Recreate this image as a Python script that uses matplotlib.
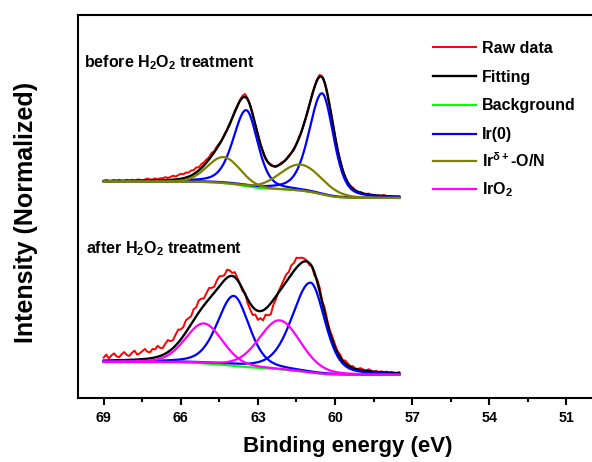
import numpy as np
import matplotlib.pyplot as plt

plt.rcParams['font.family'] = 'Liberation Sans'
plt.rcParams['font.weight'] = 'bold'
plt.rcParams['mathtext.fontset'] = 'custom'
plt.rcParams['mathtext.rm'] = 'Liberation Sans:bold'
plt.rcParams['mathtext.it'] = 'Liberation Sans:bold'
plt.rcParams['mathtext.bf'] = 'Liberation Sans:bold'

# scan window (eV); raw points every 0.1 eV, model curves every 0.025 eV
e_high, e_low = 69.0, 57.5

# ---- before H2O2 treatment (fit parameters) ----
before_bg_ends = [2.165, 2.00]          # Shirley end levels: high BE, low BE
before_ir0_pos = [60.50, 63.45]
before_ir0_amp = [1.01, 0.76]
before_ir0_hw = [[0.60, 0.52], [0.60, 0.52]]   # half widths: high BE side, low BE side
before_irx_pos = [61.33, 64.33]
before_irx_amp = [0.26, 0.26]
before_irx_hw = [[0.95, 0.95], [0.75, 0.75]]

# ---- after H2O2 treatment (fit parameters) ----
after_bg_ends = [0.36, 0.23]
after_ir0_pos = [60.95, 63.94]
after_ir0_amp = [0.90, 0.70]
after_ir0_hw = [[0.85, 0.65], [0.75, 0.70]]
after_iro2_pos = [62.15, 65.10]
after_iro2_amp = [0.49, 0.40]
after_iro2_hw = [[0.95, 0.95], [0.85, 0.85]]

# raw data minus fit (units of 0.01), 69.0 -> 57.5 eV
before_resid = [0, 1, 0, 0, 1, 0, 1, 0, 0, 1, 0,
                1, 0, 1, 1, 0, 1, 2, 1, 1, 2,
                1, 2, 2, 3, 2, 3, 4, 3, 4, 5,
                4, 5, 4, 5, 4, 5, 3, 4, 3, 3,
                2, 3, 1, 2, 1, 0, 1, 0, -1, 0,
                1, 0, 1, 2, 3, 1, 0, -1, 0, 1,
                0, 1, -1, 0, 1, 0, -1, 0, 1, 0,
                0, 1, 0, -1, 0, 1, 0, 1, 0, 0,
                1, 0, 1, 2, 1, 0, -1, 0, 1, 0,
                0, 1, 0, 0, -1, 0, 1, 0, 0, 1,
                0, 0, 1, 0, 0, -1, 0, 0, 1, 0,
                0, 0, -1, 0, 0]
after_resid = [3, 6, 2, 5, 7, 4, 3, 6, 8, 5, 4,
               7, 9, 5, 6, 8, 10, 7, 6, 9, 8,
               11, 8, 7, 10, 12, 9, 8, 11, 13, 10,
               9, 12, 10, 8, 11, 9, 12, 10, 7, 9,
               11, 8, 6, 9, 10, 7, 5, 8, 6, 3,
               5, 2, 0, -2, 1, -4, -6, -8, -5, -9,
               -7, -10, -6, -9, -11, -5, -3, 1, 3, 5,
               7, 6, 9, 8, 10, 7, 5, 3, 1, -2,
               0, -3, 2, 4, 1, 5, 3, 2, 4, 3,
               2, 3, 1, 3, 2, 1, 2, 0, 1, 2,
               1, 0, 2, 1, 0, 1, 0, 1, 0, 1,
               0, 1, 0, 0, 1]

xticks = [69, 66, 63, 60, 57, 54, 51]


def peak(e, pos, amp, hw, eta=0.35):
    """asymmetric pseudo-Voigt (hw = [high BE side, low BE side])"""
    w = np.where(e >= pos, hw[0], hw[1])
    r = ((e - pos) / w) ** 2
    return amp * (eta / (1 + r) + (1 - eta) * np.exp(-np.log(2) * r))


def shirley(e, total, ends):
    step = abs(e[1] - e[0])
    cum = np.cumsum(total[::-1])[::-1] * step
    return ends[1] + (ends[0] - ends[1]) * cum / cum[0]


energy = np.linspace(e_high, e_low, 461)


def build(pos_a, amp_a, hw_a, eta_a, pos_b, amp_b, hw_b, eta_b, ends, resid):
    comp_a = [peak(energy, p, a, w, eta_a) for p, a, w in zip(pos_a, amp_a, hw_a)]
    comp_b = [peak(energy, p, a, w, eta_b) for p, a, w in zip(pos_b, amp_b, hw_b)]
    total = sum(comp_a) + sum(comp_b)
    bg = shirley(energy, total, ends)
    fit = bg + total
    raw = fit[::4] + np.array(resid) * 0.01
    return comp_a, comp_b, bg, fit, raw


fig = plt.figure(figsize=(5.92, 4.62), dpi=100)
ax = fig.add_axes([78 / 592, 64 / 462, 514 / 592, 383 / 462])

spectra = [
    build(before_ir0_pos, before_ir0_amp, before_ir0_hw, 0.35,
          before_irx_pos, before_irx_amp, before_irx_hw, 0.05,
          before_bg_ends, before_resid) + ('#808000',),
    build(after_ir0_pos, after_ir0_amp, after_ir0_hw, 0.35,
          after_iro2_pos, after_iro2_amp, after_iro2_hw, 0.2,
          after_bg_ends, after_resid) + ('#ff00ff',),
]

for k, (comp_a, comp_b, bg, fit, raw, col_b) in enumerate(spectra):
    first = (k == 0)
    ax.plot(energy[::4], raw, color='red', lw=1.4, label='Raw data' if first else None)
    ax.plot(energy, fit, color='black', lw=1.7, label='Fitting' if first else None)
    ax.plot(energy, bg, color='#00ff00', lw=1.5, label='Background' if first else None)
    for j, c in enumerate(comp_a):
        ax.plot(energy, bg + c, color='#0000ff', lw=1.6,
                label='Ir(0)' if (first and j == 0) else None)
    for c in comp_b:
        ax.plot(energy, bg + c, color=col_b, lw=1.6)

# legend entries for the two oxidised species
ax.plot([], [], color='#808000', lw=1.6, label=r'Ir$^{\delta+}$-O/N')
ax.plot([], [], color='#ff00ff', lw=1.6, label=r'IrO$_2$')

ax.text(69.77, 3.31, r'before H$_2$O$_2$ treatment', fontsize=11.5, fontweight='bold')
ax.text(69.69, 1.45, r'after H$_2$O$_2$ treatment', fontsize=11.5, fontweight='bold')

ax.set_xlim(70, 50)
ax.set_ylim(0, 3.83)
ax.set_xticks(xticks)
ax.set_xticks(np.arange(67.5, 50, -3), minor=True)
ax.set_xticklabels([str(t) for t in xticks], fontsize=10.3, fontweight='bold')
ax.set_yticks([])
ax.tick_params(axis='x', which='major', direction='out', length=5, width=1.5, pad=4)
ax.tick_params(axis='x', which='minor', direction='out', length=3, width=1.5)
for s in ['left', 'bottom', 'top']:
    ax.spines[s].set_linewidth(1.5)
ax.spines['right'].set_visible(False)

ax.set_xlabel('Binding energy (eV)', fontsize=16, fontweight='bold')
ax.set_ylabel('Intensity (Normalized)', fontsize=18, fontweight='bold')
ax.xaxis.set_label_coords(0.524, -0.098)
ax.yaxis.set_label_coords(-0.078, 0.484)

# legend in two blocks so the super/subscript rows keep an even pitch
handles, labels = ax.get_legend_handles_labels()
leg_opts = dict(loc='upper left', bbox_transform=fig.transFigure, frameon=False,
                fontsize=11.5, borderpad=0, borderaxespad=0, handlelength=2.7,
                handletextpad=0.35)
leg1 = ax.legend(handles[:4], labels[:4], bbox_to_anchor=(433 / 592, 1 - 41 / 462),
                 labelspacing=0.86, **leg_opts)
ax.add_artist(leg1)
ax.legend(handles[4:], labels[4:], bbox_to_anchor=(433 / 592, 1 - 151 / 462),
          labelspacing=0.67, **leg_opts)

fig.savefig('out.png', dpi=100)
